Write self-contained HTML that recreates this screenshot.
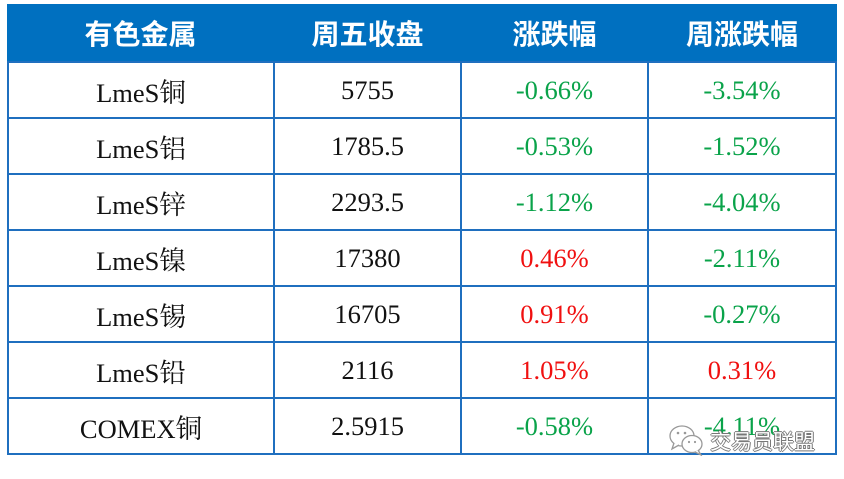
<!DOCTYPE html>
<html><head><meta charset="utf-8"><style>
html,body{margin:0;padding:0;background:#fff;}
body{width:844px;height:479px;position:relative;overflow:hidden;}
.hdr{position:absolute;left:7px;top:4px;width:830px;height:58px;background:#0070C0;}
.h{position:absolute;top:4px;height:57px;display:flex;align-items:center;justify-content:center;color:#fff;font-family:"Liberation Sans","Noto Sans CJK SC",sans-serif;font-weight:bold;font-size:28px;letter-spacing:0px;}
.hl{position:absolute;height:2px;background:#1f6fbf;left:7px;width:830px;}
.vl{position:absolute;width:2px;background:#1f6fbf;top:61px;height:394px;}
.c{position:absolute;height:56px;display:flex;align-items:center;justify-content:center;font-family:"Liberation Serif","Noto Serif CJK SC",serif;font-size:26.5px;color:#111;}
.g{color:#0aa34a;}
.r{color:#f01010;}
.wm{position:absolute;left:710px;top:426px;font-family:"Liberation Sans","Noto Sans CJK SC",sans-serif;font-size:21px;color:#fff;text-shadow:-1px 0 #777,1px 0 #777,0 -1px #777,0 1px #777;letter-spacing:0px;}
</style></head><body>
<div class="hdr"></div>
<div class="h" style="left:7px;width:267px;">有色金属</div>
<div class="h" style="left:274px;width:187px;">周五收盘</div>
<div class="h" style="left:461px;width:187px;">涨跌幅</div>
<div class="h" style="left:648px;width:188px;">周涨跌幅</div>

<div class="hl" style="top:61px"></div>
<div class="hl" style="top:117px"></div>
<div class="hl" style="top:173px"></div>
<div class="hl" style="top:229px"></div>
<div class="hl" style="top:285px"></div>
<div class="hl" style="top:341px"></div>
<div class="hl" style="top:397px"></div>
<div class="hl" style="top:453px"></div>
<div class="vl" style="left:7px"></div>
<div class="vl" style="left:273px"></div>
<div class="vl" style="left:460px"></div>
<div class="vl" style="left:647px"></div>
<div class="vl" style="left:835px"></div>

<div class="c" style="top:62px;left:9px;width:264px;">LmeS铜</div>
<div class="c" style="top:62px;left:275px;width:185px;">5755</div>
<div class="c g" style="top:62px;left:462px;width:185px;">-0.66%</div>
<div class="c g" style="top:62px;left:649px;width:186px;">-3.54%</div>

<div class="c" style="top:118px;left:9px;width:264px;">LmeS铝</div>
<div class="c" style="top:118px;left:275px;width:185px;">1785.5</div>
<div class="c g" style="top:118px;left:462px;width:185px;">-0.53%</div>
<div class="c g" style="top:118px;left:649px;width:186px;">-1.52%</div>

<div class="c" style="top:174px;left:9px;width:264px;">LmeS锌</div>
<div class="c" style="top:174px;left:275px;width:185px;">2293.5</div>
<div class="c g" style="top:174px;left:462px;width:185px;">-1.12%</div>
<div class="c g" style="top:174px;left:649px;width:186px;">-4.04%</div>

<div class="c" style="top:230px;left:9px;width:264px;">LmeS镍</div>
<div class="c" style="top:230px;left:275px;width:185px;">17380</div>
<div class="c r" style="top:230px;left:462px;width:185px;">0.46%</div>
<div class="c g" style="top:230px;left:649px;width:186px;">-2.11%</div>

<div class="c" style="top:286px;left:9px;width:264px;">LmeS锡</div>
<div class="c" style="top:286px;left:275px;width:185px;">16705</div>
<div class="c r" style="top:286px;left:462px;width:185px;">0.91%</div>
<div class="c g" style="top:286px;left:649px;width:186px;">-0.27%</div>

<div class="c" style="top:342px;left:9px;width:264px;">LmeS铅</div>
<div class="c" style="top:342px;left:275px;width:185px;">2116</div>
<div class="c r" style="top:342px;left:462px;width:185px;">1.05%</div>
<div class="c r" style="top:342px;left:649px;width:186px;">0.31%</div>

<div class="c" style="top:398px;left:9px;width:264px;">COMEX铜</div>
<div class="c" style="top:398px;left:275px;width:185px;">2.5915</div>
<div class="c g" style="top:398px;left:462px;width:185px;">-0.58%</div>
<div class="c g" style="top:398px;left:649px;width:186px;">-4.11%</div>

<svg style="position:absolute;left:668px;top:424px" width="40" height="32" viewBox="0 0 40 32">
<ellipse cx="14" cy="12" rx="12" ry="10" fill="#fff" stroke="#999" stroke-width="1.3"/>
<path d="M6 19 L4 25 L11 21" fill="#fff" stroke="#999" stroke-width="1.3"/>
<ellipse cx="24" cy="20" rx="10" ry="8.5" fill="#fff" stroke="#999" stroke-width="1.3"/>
<path d="M30 26 L33 31 L27 28" fill="#fff" stroke="#999" stroke-width="1.3"/>
<circle cx="10" cy="9" r="1.3" fill="#999"/><circle cx="17" cy="9" r="1.3" fill="#999"/>
<circle cx="21" cy="18" r="1.1" fill="#999"/><circle cx="27" cy="18" r="1.1" fill="#999"/>
</svg>
<div class="wm">交易员联盟</div>
</body></html>
